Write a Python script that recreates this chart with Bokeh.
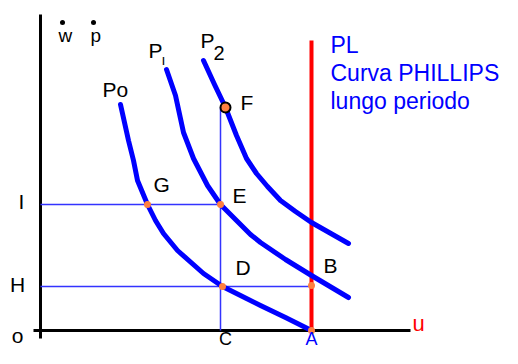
from bokeh.plotting import figure
from bokeh.models import Range1d
from bokeh.embed import file_html
from bokeh.resources import INLINE
from bokeh.core.properties import value

# ---- data (origin o at (0,0); u to the right, inflation upward) ----
po_x = [80, 88, 93, 97, 107, 115, 123, 137, 163, 182, 200, 220, 245, 271]
po_y = [226, 190, 170, 150, 126, 110, 97, 80, 57, 44, 35, 25, 13, 0]

p1_x = [126, 135, 143, 153, 167, 180, 195, 210, 220, 245, 271, 308]
p1_y = [261, 235, 198, 172, 145, 126, 111, 96, 88, 71, 55, 33]

p2_x = [163, 174, 185, 196, 206, 216, 227, 240, 255, 271, 308]
p2_y = [270, 246, 223, 195, 172, 157, 144, 130, 119, 108, 87]

u_A = 271          # long-run unemployment (PL)
pl_top = 290
u_C = 180
infl_I = 126
infl_H = 44
F_pt = (185, 223)
pts_x = [107, 180, 182, 271, 271]   # G, E, D, B, A
pts_y = [126, 126, 44, 45, 0]

x_axis_end = 370
y_axis_top = 316

FONT = value("Liberation Sans")
TXT_DY = 8   # compensation for rendered baseline offset

p = figure(width=502, height=348, x_range=Range1d(-40, 462), y_range=Range1d(-18, 330),
           output_backend="svg", toolbar_location=None, min_border=0)
p.axis.visible = False
p.grid.visible = False
p.outline_line_color = None
p.background_fill_color = "white"
p.border_fill_color = "white"

# axes
p.segment(x0=[0, -7], y0=[-8, 0], x1=[0, x_axis_end], y1=[y_axis_top, 0],
          line_color="black", line_width=3)

# guide lines
p.segment(x0=[0, 0, u_C], y0=[infl_I, infl_H, 0], x1=[u_C, u_A, u_C], y1=[infl_I, infl_H, F_pt[1]],
          line_color="#3333ff", line_width=1.5)

# long-run Phillips curve
p.segment(x0=[u_A], y0=[0], x1=[u_A], y1=[pl_top], line_color="#ff0000", line_width=4)

# short-run curves
for xs, ys in [(po_x, po_y), (p1_x, p1_y), (p2_x, p2_y)]:
    p.line(xs, ys, line_color="#0000ff", line_width=5, line_join="round", line_cap="round")

# points
p.scatter(pts_x, pts_y, size=7, fill_color="#ff8040", line_color=None)
p.scatter([F_pt[0]], [F_pt[1]], size=10, fill_color="#ff8040", line_color="black", line_width=2)

def lab(x, y, t, size, color="black", align="left"):
    p.text([x], [y + TXT_DY], text=[t], text_font=FONT, text_font_size=f"{size}px",
           text_color=color, text_align=align, text_baseline="alphabetic")

# axis letters
lab(-19, 121, "I", 21, align="center")
lab(-23, 38, "H", 21, align="center")
lab(-23, -13, "o", 21, align="center")
lab(185, -16, "C", 18, align="center")
lab(271, -16, "A", 18, color="#0000ff", align="center")
lab(372, -1, "u", 22, color="#ff0000")

# point letters
lab(113, 138, "G", 21)
lab(192, 127, "E", 21)
lab(195, 55, "D", 21)
lab(283, 57, "B", 21)
lab(200, 220, "F", 21)

# curve names
lab(62, 233, "Po", 21)
lab(108, 272, "P", 21)
lab(121, 263, "ı", 14)
lab(160, 282, "P", 21)
lab(173, 270, "2", 20)

# w-dot, p-dot
lab(18, 287, "w", 19)
lab(50, 287, "p", 19)
p.scatter([22, 53], [308, 308], size=5, fill_color="black", line_color=None)

# PL text
lab(290, 278, "PL", 23, color="#0000ff")
lab(290, 250, "Curva PHILLIPS", 23, color="#0000ff")
lab(290, 222, "lungo periodo", 23, color="#0000ff")

open("out.html", "w").write(file_html(p, INLINE))
